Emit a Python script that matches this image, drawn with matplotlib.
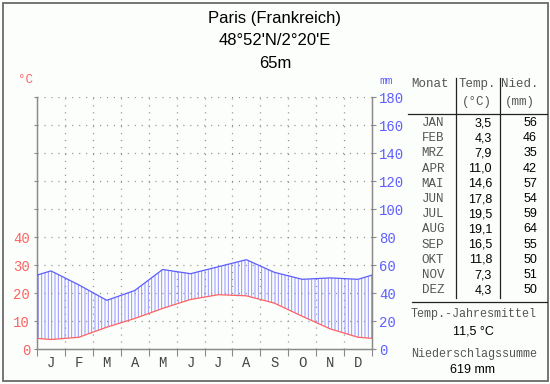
import numpy as np
import matplotlib
matplotlib.use("Agg")
import matplotlib.pyplot as plt
from matplotlib.lines import Line2D
from matplotlib.patches import Rectangle

# ---- data ----
months_short = ["J", "F", "M", "A", "M", "J", "J", "A", "S", "O", "N", "D"]
months_table = ["JAN", "FEB", "MRZ", "APR", "MAI", "JUN", "JUL", "AUG", "SEP", "OKT", "NOV", "DEZ"]
temp = [3.5, 4.3, 7.9, 11.0, 14.6, 17.8, 19.5, 19.1, 16.5, 11.8, 7.3, 4.3]
prec = [56, 46, 35, 42, 57, 54, 59, 64, 55, 50, 51, 50]
temp_labels = ["3,5", "4,3", "7,9", "11,0", "14,6", "17,8", "19,5", "19,1", "16,5", "11,8", "7,3", "4,3"]
title_lines = ["Paris (Frankreich)", "48°52'N/2°20'E", "65m"]
mean_temp_text = "11,5 °C"
total_prec_text = "619 mm"

W, H = 550, 384
plt.rcParams['lines.scale_dashes'] = False
fig = plt.figure(figsize=(W / 100, H / 100), dpi=100)
fig.patch.set_facecolor('#fbfefb')

def px(x, y):
    return (x / W, 1 - y / H)

MONO = ['Liberation Mono', 'DejaVu Sans Mono']
SANS = ['Liberation Sans', 'DejaVu Sans']
RED = '#ff6262'
BLUE = '#5e5eff'
GRID = '#8f8f8f'

# ---- axes ----
x0, x1, ybot, ytop = 37, 372, 349.3, 97.3
ax = fig.add_axes([x0 / W, 1 - ybot / H, (x1 - x0) / W, (ybot - ytop) / H])
ax.set_facecolor('none')
ax.set_xlim(0, 12)
ax.set_ylim(0, 90)
ax2 = ax.twinx()
ax2.set_ylim(0, 180)

# month-centred curves, closed at edges with Dec/Jan mean
xs = np.concatenate([[0], np.arange(12) + 0.5, [12]])
t_edge = (temp[0] + temp[-1]) / 2
p_edge = (prec[0] + prec[-1]) / 2
t_line = np.concatenate([[t_edge], temp, [t_edge]])
p_line = np.concatenate([[p_edge], prec, [p_edge]])

plt.rcParams['hatch.color'] = '#9494ff'
plt.rcParams['hatch.linewidth'] = 0.7
ax.fill_between(xs, t_line, p_line / 2, facecolor='none', edgecolor='#9494ff',
                hatch='|||||', linewidth=0, zorder=2)
ax.plot(xs, t_line, color=RED, lw=0.9, zorder=3)
ax2.plot(xs, p_line, color=BLUE, lw=0.9, zorder=3)

# grid
dots = (0, (0.8, 4.2))
for v in range(10, 91, 10):
    ax.plot([0, 12], [v, v], color=GRID, lw=0.9, linestyle=dots, zorder=1)
for m in range(1, 12):
    ax.plot([m, m], [0, 90], color=GRID, lw=0.9, linestyle=dots, zorder=1)

for a in (ax, ax2):
    a.spines['top'].set_visible(False)
    for s in ('left', 'right', 'bottom'):
        a.spines[s].set_color('#8a8a8a')
        a.spines[s].set_linewidth(0.9)

ax.set_xticks(np.arange(0, 13), labels=[""] * 13)
ax.set_xticks(np.arange(12) + 0.5, labels=months_short, minor=True)
ax.tick_params(axis='x', which='major', length=5, width=0.8, color='#8a8a8a', direction='out')
ax.tick_params(axis='x', which='minor', length=0, pad=5, labelsize=10, labelcolor='#444444')
for lab in ax.get_xticklabels(minor=True):
    lab.set_fontfamily(MONO)

ax.set_yticks(np.arange(0, 91, 10), labels=[str(v) if v <= 40 else "" for v in range(0, 91, 10)])
ax.tick_params(axis='y', length=2, width=0.8, color='#8a8a8a', labelsize=10, labelcolor=RED, pad=3)
for lab in ax.get_yticklabels():
    lab.set_fontfamily(MONO)

ax2.set_yticks(np.arange(0, 181, 20))
ax2.tick_params(axis='y', length=3, width=0.8, color='#8a8a8a', labelsize=10, labelcolor=BLUE, pad=2)
for lab in ax2.get_yticklabels():
    lab.set_fontfamily(MONO)

# unit labels
fig.text(*px(25, 80), "°C", color=RED, fontsize=9, family=MONO, ha='center', va='center')
fig.text(*px(386, 81), "mm", color=BLUE, fontsize=8, family=MONO, ha='center', va='center')

# title
for i, t in enumerate(title_lines):
    fig.text(*px(275, 18 + 22.5 * i), t, fontsize=12, family=SANS, ha='center', va='center', color='black')

# ---- table ----
TG = '#555555'
fig.text(*px(430, 84), "Monat", fontsize=9, family=MONO, color=TG, ha='center', va='center')
fig.text(*px(477, 84), "Temp.", fontsize=9, family=MONO, color=TG, ha='center', va='center')
fig.text(*px(477, 102), "(°C)", fontsize=9, family=MONO, color=TG, ha='center', va='center')
fig.text(*px(520, 84), "Nied.", fontsize=9, family=MONO, color=TG, ha='center', va='center')
fig.text(*px(520, 102), "(mm)", fontsize=9, family=MONO, color=TG, ha='center', va='center')

for i in range(12):
    y = 123 + 15.2 * i
    fig.text(*px(433, y), months_table[i], fontsize=9, family=MONO, color=TG, ha='center', va='center')
    fig.text(*px(492, y), temp_labels[i], fontsize=9, family=SANS, color='black', ha='right', va='center')
    fig.text(*px(537, y), str(prec[i]), fontsize=9, family=SANS, color='black', ha='right', va='center')

def fline(xa, ya, xb, yb, color='#222222', lw=0.9):
    (fx0, fy0), (fx1, fy1) = px(xa, ya), px(xb, yb)
    fig.add_artist(Line2D([fx0, fx1], [fy0, fy1], color=color, lw=lw, transform=fig.transFigure))

fline(456, 78, 456, 298)
fline(500, 78, 500, 298)
fline(408, 114, 547, 114)
fline(412, 302, 547, 302)

fig.text(*px(474, 314), "Temp.-Jahresmittel", fontsize=8.5, family=MONO, color=TG, ha='center', va='center')
fig.text(*px(473, 331), mean_temp_text, fontsize=9, family=SANS, color='black', ha='center', va='center')
fig.text(*px(474, 354), "Niederschlagssumme", fontsize=8.5, family=MONO, color=TG, ha='center', va='center')
fig.text(*px(473, 370), total_prec_text, fontsize=9, family=SANS, color='black', ha='center', va='center')

# outer frame
fig.add_artist(Rectangle(px(2.5, 381), 545 / W, 378 / H, transform=fig.transFigure,
                         fill=False, edgecolor='#6a6a6a', lw=1.3))

fig.savefig("out.png", dpi=100, facecolor=fig.get_facecolor())
